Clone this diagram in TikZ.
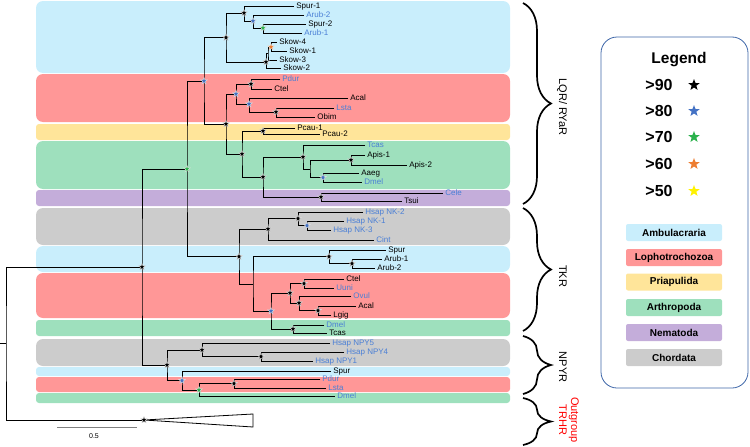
\documentclass[tikz,border=0pt]{standalone}
\usepackage{fontspec}
\setmainfont{Liberation Sans}
\usetikzlibrary{shapes.geometric,decorations.pathreplacing}
\definecolor{amb}{HTML}{C9EEFC}
\definecolor{lop}{HTML}{FF9797}
\definecolor{pri}{HTML}{FFE59A}
\definecolor{art}{HTML}{9EE0BD}
\definecolor{nem}{HTML}{C4ADDA}
\definecolor{cho}{HTML}{CCCCCC}
\definecolor{tipblue}{HTML}{4A7FD6}
\definecolor{legblue}{HTML}{3D66A8}
\definecolor{s80}{HTML}{4472C4}
\definecolor{s70}{HTML}{2BB24C}
\definecolor{s60}{HTML}{ED7D31}
\definecolor{s50}{HTML}{FFF200}
\tikzstyle{tip}=[anchor=west,inner sep=2pt,text height=5.8pt,text depth=1.6pt,font=\fontsize{8}{9}\selectfont]
\tikzstyle{btip}=[tip,text=tipblue]
\tikzstyle{boot}=[star,star points=5,star point ratio=2.3,minimum size=7pt,inner sep=0pt,draw=white!80!gray,line width=0.4pt]
\tikzstyle{bigboot}=[star,star points=5,star point ratio=2.4,minimum size=12pt,inner sep=0pt]
\tikzstyle{band}=[rounded corners=7pt]
\tikzstyle{thin}=[rounded corners=3pt]
\tikzstyle{brack}=[decorate,decoration={brace,amplitude=28pt},line width=1.7pt]
\tikzstyle{grp}=[rotate=-90,font=\fontsize{11}{12}\selectfont]
\tikzstyle{legval}=[font=\fontsize{16}{18}\selectfont\bfseries]
\tikzstyle{legbox}=[minimum width=96pt,minimum height=17pt,inner sep=0pt,rounded corners=2pt,font=\fontsize{10}{12}\selectfont\bfseries]

\begin{document}
\begin{tikzpicture}[x=1pt,y=-1pt,line width=0.8pt]
\useasboundingbox (0,0) rectangle (750,447);
% clade bands
\fill[amb,band] (36,1) rectangle (510,73);
\fill[lop,band] (36,74) rectangle (510,122);
\fill[pri,thin] (36,124) rectangle (510,140);
\fill[art,band] (36,141) rectangle (510,189);
\fill[nem,thin] (36,190) rectangle (510,206);
\fill[cho,band] (36,208) rectangle (510,245);
\fill[amb,band] (36,246) rectangle (510,272);
\fill[lop,band] (36,273) rectangle (510,318);
\fill[art,thin] (36,320) rectangle (510,336);
\fill[cho,band] (36,339) rectangle (510,366);
\fill[amb,thin] (36,367) rectangle (510,376);
\fill[lop,thin] (36,377) rectangle (510,392);
\fill[art,thin] (36,393) rectangle (510,403);

% tips
\node[tip] (spur1) at (294,6) {Spur-1};
\node[btip] (arub2) at (304,15) {Arub-2};
\node[tip] (spur2) at (306,24) {Spur-2};
\node[btip] (arub1) at (302,33) {Arub-1};
\node[tip] (skow4) at (277,42) {Skow-4};
\node[tip] (skow1) at (287,51) {Skow-1};
\node[tip] (skow3) at (277,60) {Skow-3};
\node[tip] (skow2) at (281,68) {Skow-2};
\node[btip] (pdur1) at (280,79) {Pdur};
\node[tip] (ctel1) at (272,89) {Ctel};
\node[tip] (acal1) at (348,98) {Acal};
\node[btip] (lsta1) at (334,108) {Lsta};
\node[tip] (obim) at (315,117) {Obim};
\node[tip] (pcau1) at (295,128) {Pcau-1};
\node[tip] (pcau2) at (320,134) {Pcau-2};
\node[btip] (tcas1) at (365,145) {Tcas};
\node[tip] (apis1) at (365,155) {Apis-1};
\node[tip] (apis2) at (407,165) {Apis-2};
\node[tip] (aaeg) at (359,173) {Aaeg};
\node[btip] (dmel1) at (362,182) {Dmel};
\node[btip] (cele) at (443,193) {Cele};
\node[tip] (tsui) at (402,201) {Tsui};
\node[btip] (nk2) at (363,212) {Hsap NK-2};
\node[btip] (nk1) at (344,221) {Hsap NK-1};
\node[btip] (nk3) at (331,230) {Hsap NK-3};
\node[btip] (cint) at (374,240) {Cint};
\node[tip] (spur3) at (386,250) {Spur};
\node[tip] (arub1b) at (382,259) {Arub-1};
\node[tip] (arub2b) at (375,268) {Arub-2};
\node[tip] (ctel2) at (344,279) {Ctel};
\node[btip] (uuni) at (334,288) {Uuni};
\node[btip] (ovul) at (351,296) {Ovul};
\node[tip] (acal2) at (356,306) {Acal};
\node[tip] (lgig) at (331,315) {Lgig};
\node[btip] (dmel2) at (324,325) {Dmel};
\node[tip] (tcas2) at (327,333) {Tcas};
\node[btip] (npy5) at (330,343) {Hsap NPY5};
\node[btip] (npy4) at (344,352) {Hsap NPY4};
\node[btip] (npy1) at (313,361) {Hsap NPY1};
\node[tip] (spur4) at (331,371) {Spur};
\node[btip] (pdur2) at (320,379) {Pdur};
\node[btip] (lsta2) at (326,388) {Lsta};
\node[btip] (dmel3) at (335,396) {Dmel};

% internal nodes
\coordinate (a1) at (244,13);
\coordinate (a2) at (253,21);
\coordinate (a3) at (263,28);
\coordinate (a4) at (226,37.5);
\coordinate (a5) at (271,47);
\coordinate (a6) at (268,53.5);
\coordinate (a7) at (266,62);
\coordinate (b1) at (251,84);
\coordinate (b2) at (276,112);
\coordinate (b3) at (249,104);
\coordinate (b4) at (236,94);
\coordinate (c1) at (263,131);
\coordinate (d1) at (351,160);
\coordinate (d2) at (323,177.5);
\coordinate (d3) at (310,169);
\coordinate (d4) at (303,157);
\coordinate (e1) at (321,197);
\coordinate (d5) at (263,177);
\coordinate (c2) at (242,154);
\coordinate (c3) at (226,124);
\coordinate (lqr) at (204,81);
\coordinate (f1) at (307,225.5);
\coordinate (f2) at (298,218.5);
\coordinate (f3) at (268,229);
\coordinate (g1) at (352,263.5);
\coordinate (g2) at (329,256.5);
\coordinate (h1) at (304,283.5);
\coordinate (h2) at (318,310.5);
\coordinate (h3) at (299,303);
\coordinate (h4) at (290,293);
\coordinate (h5) at (293,329);
\coordinate (h6) at (271,311);
\coordinate (g3) at (253,284);
\coordinate (tkr) at (239,256.5);
\coordinate (gr) at (187,169);
\coordinate (i1) at (261,356.5);
\coordinate (i2) at (202,350);
\coordinate (j1) at (234,383.5);
\coordinate (j2) at (199,390);
\coordinate (j3) at (182,380.5);
\coordinate (npyr) at (167,365);
\coordinate (m) at (142,267);
\coordinate (out) at (144,420);
\coordinate (root) at (6,343.5);
\coordinate (stem) at (0,343.5);
\coordinate (tri1) at (253,414);
\coordinate (tri2) at (253,427);

% LQR/RYaR
\draw (spur1.west) -| (a1) |- (a2);
\draw (arub2.west) -| (a2) |- (a3);
\draw (spur2.west) -| (a3) |- (arub1.west);
\draw (skow4.west) -| (a5) |- (skow1.west);
\draw (a5) -| (a6) |- (skow3.west);
\draw (a6) -| (a7) |- (skow2.west);
\draw (a1) -| (a4) |- (a7);
\draw (pdur1.west) -| (b1) |- (ctel1.west);
\draw (lsta1.west) -| (b2) |- (obim.west);
\draw (acal1.west) -| (b3) |- (b2);
\draw (b1) -| (b4) |- (b3);
\draw (pcau1.west) -| (c1) |- (pcau2.west);
\draw (apis1.west) -| (d1) |- (apis2.west);
\draw (aaeg.west) -| (d2) |- (dmel1.west);
\draw (d1) -| (d3) |- (d2);
\draw (tcas1.west) -| (d4) |- (d3);
\draw (cele.west) -| (e1) |- (tsui.west);
\draw (d4) -| (d5) |- (e1);
\draw (c1) -| (c2) |- (d5);
\draw (b4) -| (c3) |- (c2);
\draw (a4) -| (lqr) |- (c3);
% TKR
\draw (nk1.west) -| (f1) |- (nk3.west);
\draw (nk2.west) -| (f2) |- (f1);
\draw (f2) -| (f3) |- (cint.west);
\draw (arub1b.west) -| (g1) |- (arub2b.west);
\draw (spur3.west) -| (g2) |- (g1);
\draw (ctel2.west) -| (h1) |- (uuni.west);
\draw (acal2.west) -| (h2) |- (lgig.west);
\draw (ovul.west) -| (h3) |- (h2);
\draw (h1) -| (h4) |- (h3);
\draw (dmel2.west) -| (h5) |- (tcas2.west);
\draw (h4) -| (h6) |- (h5);
\draw (g2) -| (g3) |- (h6);
\draw (f3) -| (tkr) |- (g3);
\draw (lqr) -| (gr) |- (tkr);
% NPYR
\draw (npy4.west) -| (i1) |- (npy1.west);
\draw (npy5.west) -| (i2) |- (i1);
\draw (pdur2.west) -| (j1) |- (lsta2.west);
\draw (j1) -| (j2) |- (dmel3.west);
\draw (spur4.west) -| (j3) |- (j2);
\draw (i2) -| (npyr) |- (j3);
% root and outgroup
\draw (gr) -| (m) |- (npyr);
\draw (m) -| (root) |- (out);
\draw (root) -- (stem);
\draw (out) -- (tri1) -- (tri2) -- cycle;

% support values
\node[boot,fill=black] at (a1) {}; \node[boot,fill=black] at (a4) {}; \node[boot,fill=black] at (a7) {};
\node[boot,fill=black] at (b1) {}; \node[boot,fill=black] at (b2) {}; \node[boot,fill=black] at (c1) {};
\node[boot,fill=black] at (c2) {}; \node[boot,fill=black] at (c3) {}; \node[boot,fill=black] at (d1) {};
\node[boot,fill=black] at (d4) {}; \node[boot,fill=black] at (d5) {}; \node[boot,fill=black] at (e1) {};
\node[boot,fill=black] at (f2) {}; \node[boot,fill=black] at (f3) {}; \node[boot,fill=black] at (g1) {};
\node[boot,fill=black] at (g2) {}; \node[boot,fill=black] at (h1) {}; \node[boot,fill=black] at (h2) {};
\node[boot,fill=black] at (h3) {}; \node[boot,fill=black] at (h4) {}; \node[boot,fill=black] at (h5) {};
\node[boot,fill=black] at (tkr) {}; \node[boot,fill=black] at (m) {}; \node[boot,fill=black] at (out) {};
\node[boot,fill=black] at (npyr) {}; \node[boot,fill=black] at (i1) {}; \node[boot,fill=black] at (i2) {};
\node[boot,fill=black] at (j1) {};
\node[boot,fill=s80] at (a2) {}; \node[boot,fill=s80] at (b3) {}; \node[boot,fill=s80] at (b4) {};
\node[boot,fill=s80] at (lqr) {}; \node[boot,fill=s80] at (d2) {}; \node[boot,fill=s80] at (f1) {};
\node[boot,fill=s80] at (h6) {}; \node[boot,fill=s80] at (j3) {};
\node[boot,fill=s70] at (a3) {}; \node[boot,fill=s70] at (gr) {}; \node[boot,fill=s70] at (j2) {};
\node[boot,fill=s60] at (a5) {};

% scale bar
\coordinate (sb1) at (57,427);
\coordinate (sb2) at (137,427);
\draw[gray,line width=1pt] (sb1) -- (sb2);
\node[font=\fontsize{7}{8}\selectfont] (sbl) at (94,436) {0.5};

% groups
\draw[brack] (523,3) -- (523,204);
\draw[brack] (523,208) -- (523,331);
\draw[brack] (523,336) -- (523,394);
\draw[brack] (523,398) -- (523,445);
\node[grp] (lqrl) at (562,107) {LQR/ RYaR};
\node[grp] (tkrl) at (563,276) {TKR};
\node[grp] (npyrl) at (563,367) {NPYR};
\node[grp,align=center,text=red] (outl) at (569,420) {Outgroup\\TRHR};

% legend
\draw[legblue,rounded corners=16pt] (601,37) rectangle (748,388);
\node[font=\fontsize{15.5}{17}\selectfont\bfseries] (legt) at (679,60) {Legend};
\node[legval] (v90) at (659,85) {>90}; \node[bigboot,fill=black] at (694,85) {};
\node[legval] (v80) at (659,111) {>80}; \node[bigboot,fill=s80] at (694,111) {};
\node[legval] (v70) at (659,137) {>70}; \node[bigboot,fill=s70] at (694,137) {};
\node[legval] (v60) at (659,164) {>60}; \node[bigboot,fill=s60] at (694,164) {};
\node[legval] (v50) at (659,191) {>50}; \node[bigboot,fill=s50] at (694,191) {};
\node[legbox,fill=amb] (kamb) at (674,232.5) {Ambulacraria};
\node[legbox,fill=lop] (klop) at (674,257.5) {Lophotrochozoa};
\node[legbox,fill=pri] (kpri) at (674,282) {Priapulida};
\node[legbox,fill=art] (kart) at (674,307.5) {Arthropoda};
\node[legbox,fill=nem] (knem) at (674,332.5) {Nematoda};
\node[legbox,fill=cho] (kcho) at (674,357.5) {Chordata};
\end{tikzpicture}
\end{document}
